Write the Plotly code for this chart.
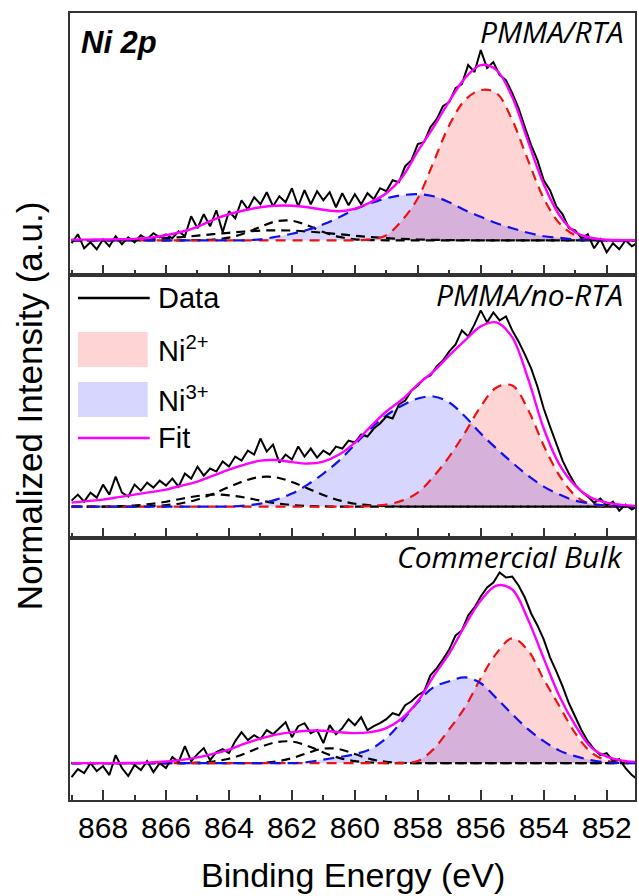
import plotly.graph_objects as go

# ---------------- data (binding energy in eV, intensity in a.u.) ----------------
E_COMP = [869.0, 868.5, 868.0, 867.5, 867.0, 866.5, 866.0, 865.5, 865.0, 864.5,
          864.0, 863.5, 863.0, 862.5, 862.0, 861.5, 861.0, 860.5, 860.0, 859.5,
          859.0, 858.5, 858.0, 857.5, 857.0, 856.5, 856.0, 855.5, 855.0, 854.5,
          854.0, 853.5, 853.0, 852.5, 852.0, 851.5, 851.0]
E_DATA = [round(869.0 - 0.2 * i, 1) for i in range(91)]

# Panel 1: PMMA/RTA
DATA_RTA = [-3, 6, -8, -2, -9, 1, -6, 4, -4, 3,
            -2, 5, 1, 7, 3, 6, 2, 9, 4, 24,
            12, 26, 14, 30, 8, 29, 22, 40, 31, 43,
            36, 48, 34, 44, 38, 52, 34, 50, 36, 49,
            40, 48, 33, 47, 35, 46, 36, 47, 41, 52,
            49, 60, 58, 74, 80, 96, 98, 113, 121, 134,
            138, 152, 156, 175, 168, 190, 172, 178, 165, 160,
            147, 132, 113, 95, 80, 60, 50, 34, 26, 12,
            10, 2, 6, -8, 1, -12, -3, -9, 0, -6, -2]
FIT_RTA = [0.7, 0.7, 0.8, 1.0, 1.4, 2.5, 5, 8.5, 13.5, 20.5,
           26, 30, 33, 34.5, 34.5, 33, 30.5, 29, 31.5, 38,
           47, 63, 89, 113, 139, 162, 175, 170, 143, 99,
           56, 25, 8, 2.5, 0.6, 0.2, 0]
NI2_RTA = [0, 0, 0, 0, 0, 0, 0, 0, 0, 0,
           0, 0, 0, 0, 0, 0, 0, 0, 0, 1,
           5, 20, 42, 78, 115, 140, 150, 147, 120, 80,
           42, 17, 5, 0.8, 0, 0, 0]
NI3_RTA = [0, 0, 0, 0, 0, 0, 0, 0, 0, 0,
           0, 0, 1, 3.5, 6.5, 10.5, 16, 23, 31, 37,
           42, 45, 46, 44, 38, 30, 23.5, 17, 12, 7.5,
           4, 2.5, 1, 0.3, 0, 0, 0]
SAT_A_RTA = [0, 0, 0, 0, 0, 0, 0, 0, 0.2, 0.8,
             2.7, 7.1, 13.5, 18.9, 19.5, 14.8, 8.2, 3.4, 1.0, 0.2,
             0, 0, 0, 0, 0, 0, 0, 0, 0, 0,
             0, 0, 0, 0, 0, 0, 0]
SAT_B_RTA = [0.05, 0.1, 0.2, 0.44, 0.8, 1.35, 2.2, 3.2, 4.6, 6.1,
             7.5, 8.8, 9.7, 10, 9.7, 8.8, 7.5, 6.1, 4.6, 3.2,
             2.2, 1.35, 0.8, 0.44, 0.2, 0.1, 0, 0, 0, 0,
             0, 0, 0, 0, 0, 0, 0]

# Panel 2: PMMA/no-RTA
DATA_NORTA = [6, 12, 5, 14, 9, 22, 12, 30, 14, 10,
              22, 16, 24, 19, 26, 21, 28, 20, 33, 28,
              40, 31, 38, 35, 45, 40, 50, 46, 56, 52,
              68, 55, 62, 44, 52, 47, 60, 50, 58, 49,
              56, 52, 60, 58, 66, 64, 72, 70, 78, 83,
              90, 88, 102, 106, 116, 121, 128, 131, 140, 146,
              155, 162, 176, 170, 182, 196, 184, 194, 186, 190,
              176, 165, 152, 138, 120, 98, 80, 62, 46, 33,
              22, 15, 10, 4, 8, 1, 5, -4, 2, -3, 1]
FIT_NORTA = [4, 5.5, 7, 9.5, 12, 14.5, 17, 21, 25, 31,
             37, 42, 46, 46.5, 44.5, 43, 45, 52, 64, 80,
             95, 107, 122, 135, 151, 166, 180, 184, 169, 128,
             78, 42, 21, 9, 4, 1.8, 0.6]
NI2_NORTA = [0, 0, 0, 0, 0, 0, 0, 0, 0, 0,
             0, 0, 0, 0, 0, 0, 0, 0, 0, 0.5,
             2, 6, 14, 30, 50, 74, 100, 119, 121, 97,
             61, 31, 11, 2.5, 0.5, 0, 0]
NI3_NORTA = [0, 0, 0, 0, 0, 0, 0, 0, 0, 0,
             0, 1, 3, 7, 13, 22, 33, 46, 62, 78,
             91, 101, 108, 110, 104, 90, 73, 58, 44, 31,
             20, 12, 6, 3, 1, 0.3, 0]
SAT_A_NORTA = [0, 0, 0, 0, 0, 0.5, 1.5, 3.4, 7.1, 12.8,
               19.6, 25.8, 29.6, 29.2, 24.6, 18.2, 11.6, 6.3, 2.9, 1.2,
               0.4, 0, 0, 0, 0, 0, 0, 0, 0, 0,
               0, 0, 0, 0, 0, 0, 0]
SAT_B_NORTA = [0, 0, 0, 0.4, 1.1, 2.6, 4.9, 7.9, 10.6, 12,
               11.3, 9.1, 6.1, 3.4, 1.6, 0.65, 0.2, 0, 0, 0,
               0, 0, 0, 0, 0, 0, 0, 0, 0, 0,
               0, 0, 0, 0, 0, 0, 0]

# Panel 3: Commercial Bulk
DATA_BULK = [-14, -6, -10, 0, -8, -3, -12, 8, -5, -13,
             -2, -7, 2, -9, 0, -5, 6, 1, 17, 2,
             9, 15, 3, 11, 14, 10, 22, 31, 23, 28,
             24, 33, 29, 35, 41, 26, 37, 40, 30, 33,
             20, 38, 29, 35, 44, 38, 46, 33, 37, 40,
             44, 50, 48, 58, 62, 68, 72, 88, 95, 104,
             114, 128, 133, 148, 156, 167, 176, 181, 191, 186,
             187, 178, 166, 150, 138, 124, 106, 92, 77, 60,
             46, 33, 22, 14, 8, 10, 2, 4, -5, -12, -17]
FIT_BULK = [0, 0, 0, 0, 0.2, 0.6, 1.6, 3.2, 5.8, 9.3,
            13.5, 19.5, 24.5, 28.5, 31, 32.5, 32.5, 31, 30, 31,
            35, 45, 62, 87, 110, 138, 163, 178, 174, 144,
            105, 67, 38, 16, 6.5, 2.5, 1]
NI2_BULK = [0, 0, 0, 0, 0, 0, 0, 0, 0, 0,
            0, 0, 0, 0, 0, 0, 0, 0, 0, 0,
            0, 0, 2, 14, 34, 56, 85, 110, 125, 113,
            84, 57, 30, 11, 2.5, 0.5, 0]
NI3_BULK = [0, 0, 0, 0, 0, 0, 0, 0, 0, 0,
            0, 0, 0, 0, 0, 1, 3.5, 6, 9, 14,
            25, 42, 61, 76, 82, 86, 80, 65, 49, 34,
            22, 12.5, 7, 3, 0.8, 0.2, 0]
SAT_A_BULK = [0, 0, 0, 0, 0, 0, 0, 0, 0.4, 1.6,
              4.4, 9.5, 16, 21, 21.6, 17.2, 10.7, 5.2, 1.9, 0.6,
              0, 0, 0, 0, 0, 0, 0, 0, 0, 0,
              0, 0, 0, 0, 0, 0, 0]
SAT_B_BULK = [0, 0, 0, 0, 0, 0, 0, 0, 0, 0,
              0, 0, 0, 1.6, 4.9, 10.2, 14.5, 14, 9.1, 4,
              1.2, 0.2, 0, 0, 0, 0, 0, 0, 0, 0,
              0, 0, 0, 0, 0, 0, 0]

PANEL_LABELS = ["PMMA/RTA", "PMMA/no-RTA", "Commercial Bulk"]
X_TICKS = [868, 866, 864, 862, 860, 858, 856, 854, 852]

# ---------------- styling ----------------
W, H = 639, 896
L, R, T, B = 70, 2, 13, 96
PW, PH = W - L - R, H - T - B

def px(x):
    return (x - L) / PW

def py(y):
    return (H - B - y) / PH

RED_FILL = "rgba(255,0,0,0.17)"
BLUE_FILL = "rgba(0,0,255,0.16)"
RED = "#ee1111"
BLUE = "#1111ee"
MAGENTA = "#ff00ff"
FRAME = "#333333"
SANS = "Liberation Sans, Arial, sans-serif"
ITAL = "Open Sans, sans-serif"

panels = [
    dict(data=DATA_RTA, fit=FIT_RTA, ni2=NI2_RTA, ni3=NI3_RTA, sats=[SAT_A_RTA, SAT_B_RTA],
         yr=[-35, 227], dom=[2 / 3, 1.0]),
    dict(data=DATA_NORTA, fit=FIT_NORTA, ni2=NI2_NORTA, ni3=NI3_NORTA, sats=[SAT_A_NORTA, SAT_B_NORTA],
         yr=[-31, 231], dom=[1 / 3, 2 / 3]),
    dict(data=DATA_BULK, fit=FIT_BULK, ni2=NI2_BULK, ni3=NI3_BULK, sats=[SAT_A_BULK, SAT_B_BULK],
         yr=[-37, 226], dom=[0.0, 1 / 3]),
]

fig = go.Figure()
for i, p in enumerate(panels):
    xa = "x" if i == 0 else f"x{i + 1}"
    ya = "y" if i == 0 else f"y{i + 1}"
    common = dict(xaxis=xa, yaxis=ya, showlegend=False, hoverinfo="skip", mode="lines")
    fig.add_trace(go.Scatter(x=E_COMP, y=p["ni2"], fill="tozeroy", fillcolor=RED_FILL,
                             line=dict(width=0, shape="spline"), **common))
    fig.add_trace(go.Scatter(x=E_COMP, y=p["ni3"], fill="tozeroy", fillcolor=BLUE_FILL,
                             line=dict(width=0, shape="spline"), **common))
    for s in p["sats"]:
        fig.add_trace(go.Scatter(x=E_COMP, y=s,
                                 line=dict(color="black", width=2.2, dash="9px,6px", shape="spline"), **common))
    fig.add_trace(go.Scatter(x=E_COMP, y=p["ni2"],
                             line=dict(color=RED, width=2.2, dash="10px,7px", shape="spline"), **common))
    fig.add_trace(go.Scatter(x=E_COMP, y=p["ni3"],
                             line=dict(color=BLUE, width=2.2, dash="11px,7px", shape="spline"), **common))
    fig.add_trace(go.Scatter(x=E_DATA, y=p["data"], line=dict(color="black", width=2), **common))
    fig.add_trace(go.Scatter(x=E_COMP, y=p["fit"], line=dict(color=MAGENTA, width=2.4, shape="spline"), **common))

layout = dict(
    width=W, height=H, margin=dict(l=L, r=R, t=T, b=B),
    paper_bgcolor="white", plot_bgcolor="white",
    font=dict(family=SANS, color="black"),
)
for i, p in enumerate(panels):
    xk = "xaxis" if i == 0 else f"xaxis{i + 1}"
    yk = "yaxis" if i == 0 else f"yaxis{i + 1}"
    ya = "y" if i == 0 else f"y{i + 1}"
    layout[xk] = dict(
        range=[869.05, 851.1], anchor=ya, domain=[0, 1],
        showline=True, mirror=True, linecolor=FRAME, linewidth=2,
        ticks="inside", ticklen=10, tickwidth=2, tickcolor=FRAME,
        tickvals=X_TICKS, ticktext=[str(v) for v in X_TICKS],
        minor=dict(ticks="inside", ticklen=5, tickwidth=2, tickcolor=FRAME, dtick=1, tick0=851),
        showticklabels=(i == 2), tickfont=dict(size=30, family=SANS),
        showgrid=False, zeroline=False,
    )
    if i != 2:
        layout[xk]["matches"] = "x3"
    layout[yk] = dict(
        range=p["yr"], domain=p["dom"], anchor="x" if i == 0 else f"x{i + 1}",
        showline=True, mirror=True, linecolor=FRAME, linewidth=2,
        ticks="", showticklabels=False, showgrid=False, zeroline=False,
    )
fig.update_layout(**layout)

ann = []
ann.append(dict(text="Ni 2p", x=px(79), y=py(42), xref="paper", yref="paper",
                xanchor="left", yanchor="middle", showarrow=False,
                font=dict(size=31, family=SANS, style="italic", weight="bold")))
for lbl, yc in zip(PANEL_LABELS, [32, 294, 556]):
    ann.append(dict(text=lbl, x=px(627), y=py(yc), xref="paper", yref="paper",
                    xanchor="right", yanchor="middle", showarrow=False,
                    font=dict(size=30, family=ITAL, style="italic")))
ann.append(dict(text="Binding Energy (eV)", x=px(354), y=py(875), xref="paper", yref="paper",
                xanchor="center", yanchor="middle", showarrow=False, font=dict(size=34, family=SANS)))
ann.append(dict(text="Normalized Intensity (a.u.)", x=px(29), y=py(406), xref="paper", yref="paper",
                xanchor="center", yanchor="middle", textangle=-90, showarrow=False,
                font=dict(size=35, family=SANS)))
# legend (in the middle panel)
leg_items = [("Data", 298), ("Ni<sup>2+</sup>", 349), ("Ni<sup>3+</sup>", 399), ("Fit", 438)]
for txt, yc in leg_items:
    ann.append(dict(text=txt, x=px(156), y=py(yc), xref="paper", yref="paper",
                    xanchor="left", yanchor="middle", showarrow=False, font=dict(size=29, family=SANS)))
fig.update_layout(annotations=ann)

shapes = [
    dict(type="line", x0=px(78), x1=px(150), y0=py(298), y1=py(298), xref="paper", yref="paper",
         line=dict(color="black", width=2.5)),
    dict(type="rect", x0=px(78), x1=px(148), y0=py(332), y1=py(367), xref="paper", yref="paper",
         fillcolor=RED_FILL, line=dict(width=0)),
    dict(type="rect", x0=px(78), x1=px(148), y0=py(382), y1=py(417), xref="paper", yref="paper",
         fillcolor=BLUE_FILL, line=dict(width=0)),
    dict(type="line", x0=px(78), x1=px(150), y0=py(438), y1=py(438), xref="paper", yref="paper",
         line=dict(color=MAGENTA, width=2.5)),
]
fig.update_layout(shapes=shapes)

fig.write_html("out.html")
